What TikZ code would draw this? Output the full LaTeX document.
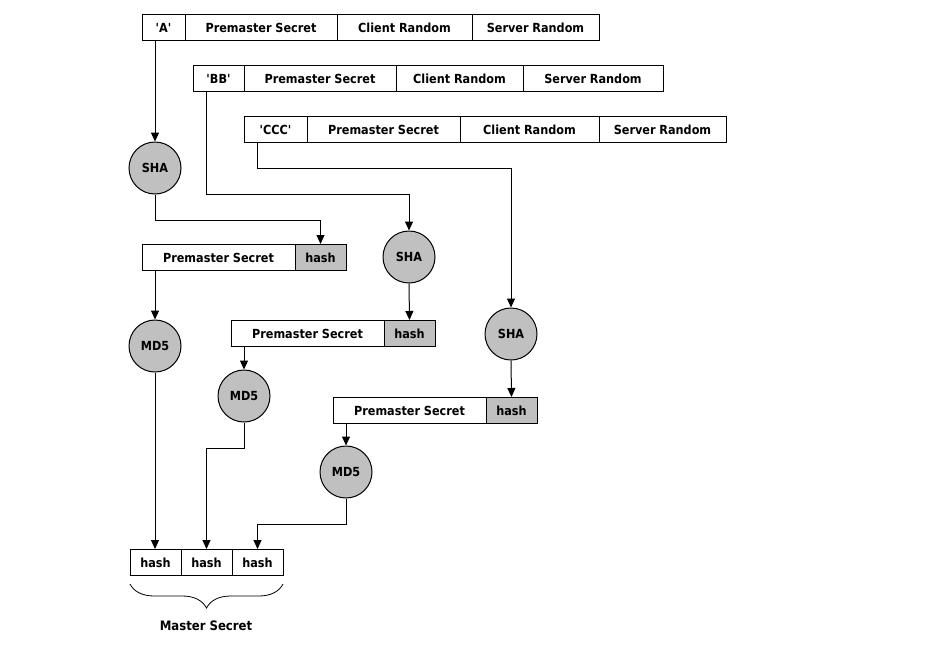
\documentclass[tikz,border=0pt]{standalone}
\usepackage{fontspec}
\setmainfont{DejaVu Sans Condensed}
\usetikzlibrary{positioning,arrows.meta,decorations.pathreplacing}
\definecolor{hashgray}{RGB}{192,192,192}
\tikzset{
  field/.style={rectangle, draw=black, line width=1pt, minimum height=26pt, inner sep=0pt,
        outer sep=0pt, font=\fontsize{12.5}{14}\bfseries, text height=12pt, text depth=1.4pt},
  hashfield/.style={field, fill=hashgray},
  func/.style={circle, draw=black, line width=1pt, fill=hashgray, minimum size=52pt,
        inner sep=0pt, font=\fontsize{12.5}{14}\bfseries},
  myarrow/.style={-{Triangle[length=9pt,width=8pt]}, line width=1pt}
}

\begin{document}
\begin{tikzpicture}[x=1pt, y=-1pt, node distance=0pt]
\useasboundingbox (0,0) rectangle (928,648);

% input rows
\node (rowAkey) [field, minimum width=43pt, anchor=north west] at (142,14) {\textquotesingle A\textquotesingle};
\node (rowAps) [field, minimum width=152pt, right=of rowAkey] {Premaster Secret};
\node (rowAcr) [field, minimum width=135pt, right=of rowAps] {Client Random};
\node (rowAsr) [field, minimum width=127pt, right=of rowAcr] {Server Random};

\node (rowBkey) [field, minimum width=51pt, anchor=north west] at (193,65) {\textquotesingle BB\textquotesingle};
\node (rowBps) [field, minimum width=152pt, right=of rowBkey] {Premaster Secret};
\node (rowBcr) [field, minimum width=127pt, right=of rowBps] {Client Random};
\node (rowBsr) [field, minimum width=140pt, right=of rowBcr] {Server Random};

\node (rowCkey) [field, minimum width=63pt, anchor=north west] at (244,116) {\textquotesingle CCC\textquotesingle};
\node (rowCps) [field, minimum width=153pt, right=of rowCkey] {Premaster Secret};
\node (rowCcr) [field, minimum width=139pt, right=of rowCps] {Client Random};
\node (rowCsr) [field, minimum width=127pt, right=of rowCcr] {Server Random};

% hash functions
\node (shaA) [func] at (155,168) {SHA};
\node (shaB) [func] at (409,257) {SHA};
\node (shaC) [func] at (511,334) {SHA};

% premaster secret + hash
\node (psA) [field, minimum width=153pt, anchor=north west] at (142,244) {Premaster Secret};
\node (hashA) [hashfield, minimum width=51pt, right=of psA] {hash};
\node (psB) [field, minimum width=153pt, anchor=north west] at (231,320) {Premaster Secret};
\node (hashB) [hashfield, minimum width=51pt, right=of psB] {hash};
\node (psC) [field, minimum width=153pt, anchor=north west] at (333,397) {Premaster Secret};
\node (hashC) [hashfield, minimum width=51pt, right=of psC] {hash};

\node (mdA) [func] at (155,346) {MD5};
\node (mdB) [func] at (244,396) {MD5};
\node (mdC) [func] at (346,472) {MD5};

% master secret
\node (outA) [field, minimum width=51pt, anchor=north west] at (130,549) {hash};
\node (outB) [field, minimum width=51pt, right=of outA] {hash};
\node (outC) [field, minimum width=51pt, right=of outB] {hash};
\draw[line width=0.8pt, decorate, decoration={brace, mirror, amplitude=24pt}]
    (outA.south west) ++(0,9) coordinate (braceL) -- (braceL -| outC.south east);
\node (master) [font=\fontsize{13}{15}\bfseries] at (206,626) {Master Secret};

\draw[myarrow] ([xshift=13pt]rowAkey.south west) -- (shaA.north);
\draw[myarrow] ([xshift=13pt]rowBkey.south west) -- ++(0,103) -| (shaB.north);
\draw[myarrow] ([xshift=13pt]rowCkey.south west) -- ++(0,26) -| (shaC.north);

\draw[myarrow] (shaA.south) -- ++(0,26) -| (hashA.north);
\draw[myarrow] (shaB.south) -- (hashB.north);
\draw[myarrow] (shaC.south) -- (hashC.north);

\draw[myarrow] ([xshift=13pt]psA.south west) -- (mdA.north);
\draw[myarrow] ([xshift=13pt]psB.south west) -- (mdB.north);
\draw[myarrow] ([xshift=13pt]psC.south west) -- (mdC.north);

\draw[myarrow] (mdA.south) -- (mdA.south |- outA.north);
\draw[myarrow] (mdB.south) -- ++(0,26) -| (outB.north);
\draw[myarrow] (mdC.south) -- ++(0,26) -| (outC.north);
\end{tikzpicture}
\end{document}
